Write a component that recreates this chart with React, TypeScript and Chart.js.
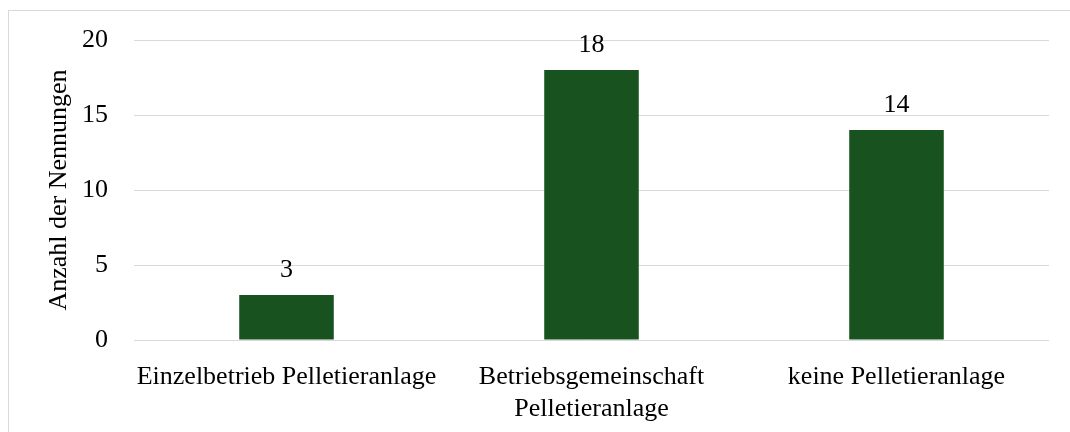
import React, { useEffect, useRef } from "react";
import { Chart, registerables } from "chart.js";

Chart.register(...registerables);

const categories: (string | string[])[] = [
  "Einzelbetrieb Pelletieranlage",
  ["Betriebsgemeinschaft", "Pelletieranlage"],
  "keine Pelletieranlage",
];
const values: number[] = [3, 18, 14];
const yTitle = "Anzahl der Nennungen";
const yMin = 0;
const yMax = 20;
const yStep = 5;

const FONT = "'Liberation Serif', 'Times New Roman', serif";
const BAR_COLOR = "#17521f";
const GRID_COLOR = "#d9d9d9";

const valueLabels = {
  id: "valueLabels",
  afterDatasetsDraw(chart: any) {
    const ctx = chart.ctx;
    const meta = chart.getDatasetMeta(0);
    ctx.save();
    ctx.font = `26px ${FONT}`;
    ctx.fillStyle = "#000";
    ctx.textAlign = "center";
    ctx.textBaseline = "alphabetic";
    meta.data.forEach((el: any, i: number) => {
      ctx.fillText(String(chart.data.datasets[0].data[i]), el.x, el.y - 18);
    });
    ctx.restore();
  },
};

export default function App() {
  const ref = useRef<HTMLCanvasElement>(null);
  useEffect(() => {
    if (!ref.current) return;
    const chart = new Chart(ref.current, {
      type: "bar",
      data: {
        labels: categories,
        datasets: [
          {
            data: values,
            backgroundColor: BAR_COLOR,
            borderWidth: 0,
            barPercentage: 0.31,
            categoryPercentage: 1,
          },
        ],
      },
      options: {
        responsive: false,
        animation: false,
        layout: { padding: { left: 35, top: 29, right: 21, bottom: 0 } },
        plugins: { legend: { display: false }, tooltip: { enabled: false } },
        scales: {
          x: {
            grid: { display: false },
            border: { display: false },
            ticks: {
              color: "#000",
              font: { family: FONT, size: 26, lineHeight: 1.2 },
              padding: 14,
              maxRotation: 0,
              minRotation: 0,
              autoSkip: false,
            },
            afterFit: (s: any) => {
              s.height = 92;
            },
          },
          y: {
            min: yMin,
            max: yMax,
            grid: { color: GRID_COLOR, lineWidth: 1, drawTicks: false },
            border: { display: false },
            ticks: {
              stepSize: yStep,
              color: "#000",
              font: { family: FONT, size: 26 },
              padding: 26,
            },
            title: {
              display: true,
              text: yTitle,
              color: "#000",
              font: { family: FONT, size: 26, lineHeight: 1.2 },
              padding: 0,
            },
            afterFit: (s: any) => {
              s.width = 90;
              s.paddingTop = 0;
              s.paddingBottom = 0;
            },
          },
        },
      },
      plugins: [valueLabels],
    });
    return () => chart.destroy();
  }, []);

  return (
    <div
      style={{
        position: "fixed",
        left: 8,
        top: 10,
        width: 1062,
        height: 422,
        boxSizing: "border-box",
        borderLeft: `1px solid ${GRID_COLOR}`,
        borderTop: `1px solid ${GRID_COLOR}`,
        background: "#fff",
      }}
    >
      <canvas
        ref={ref}
        width={1061}
        height={421}
        style={{ display: "block", width: 1061, height: 421 }}
      />
    </div>
  );
}
